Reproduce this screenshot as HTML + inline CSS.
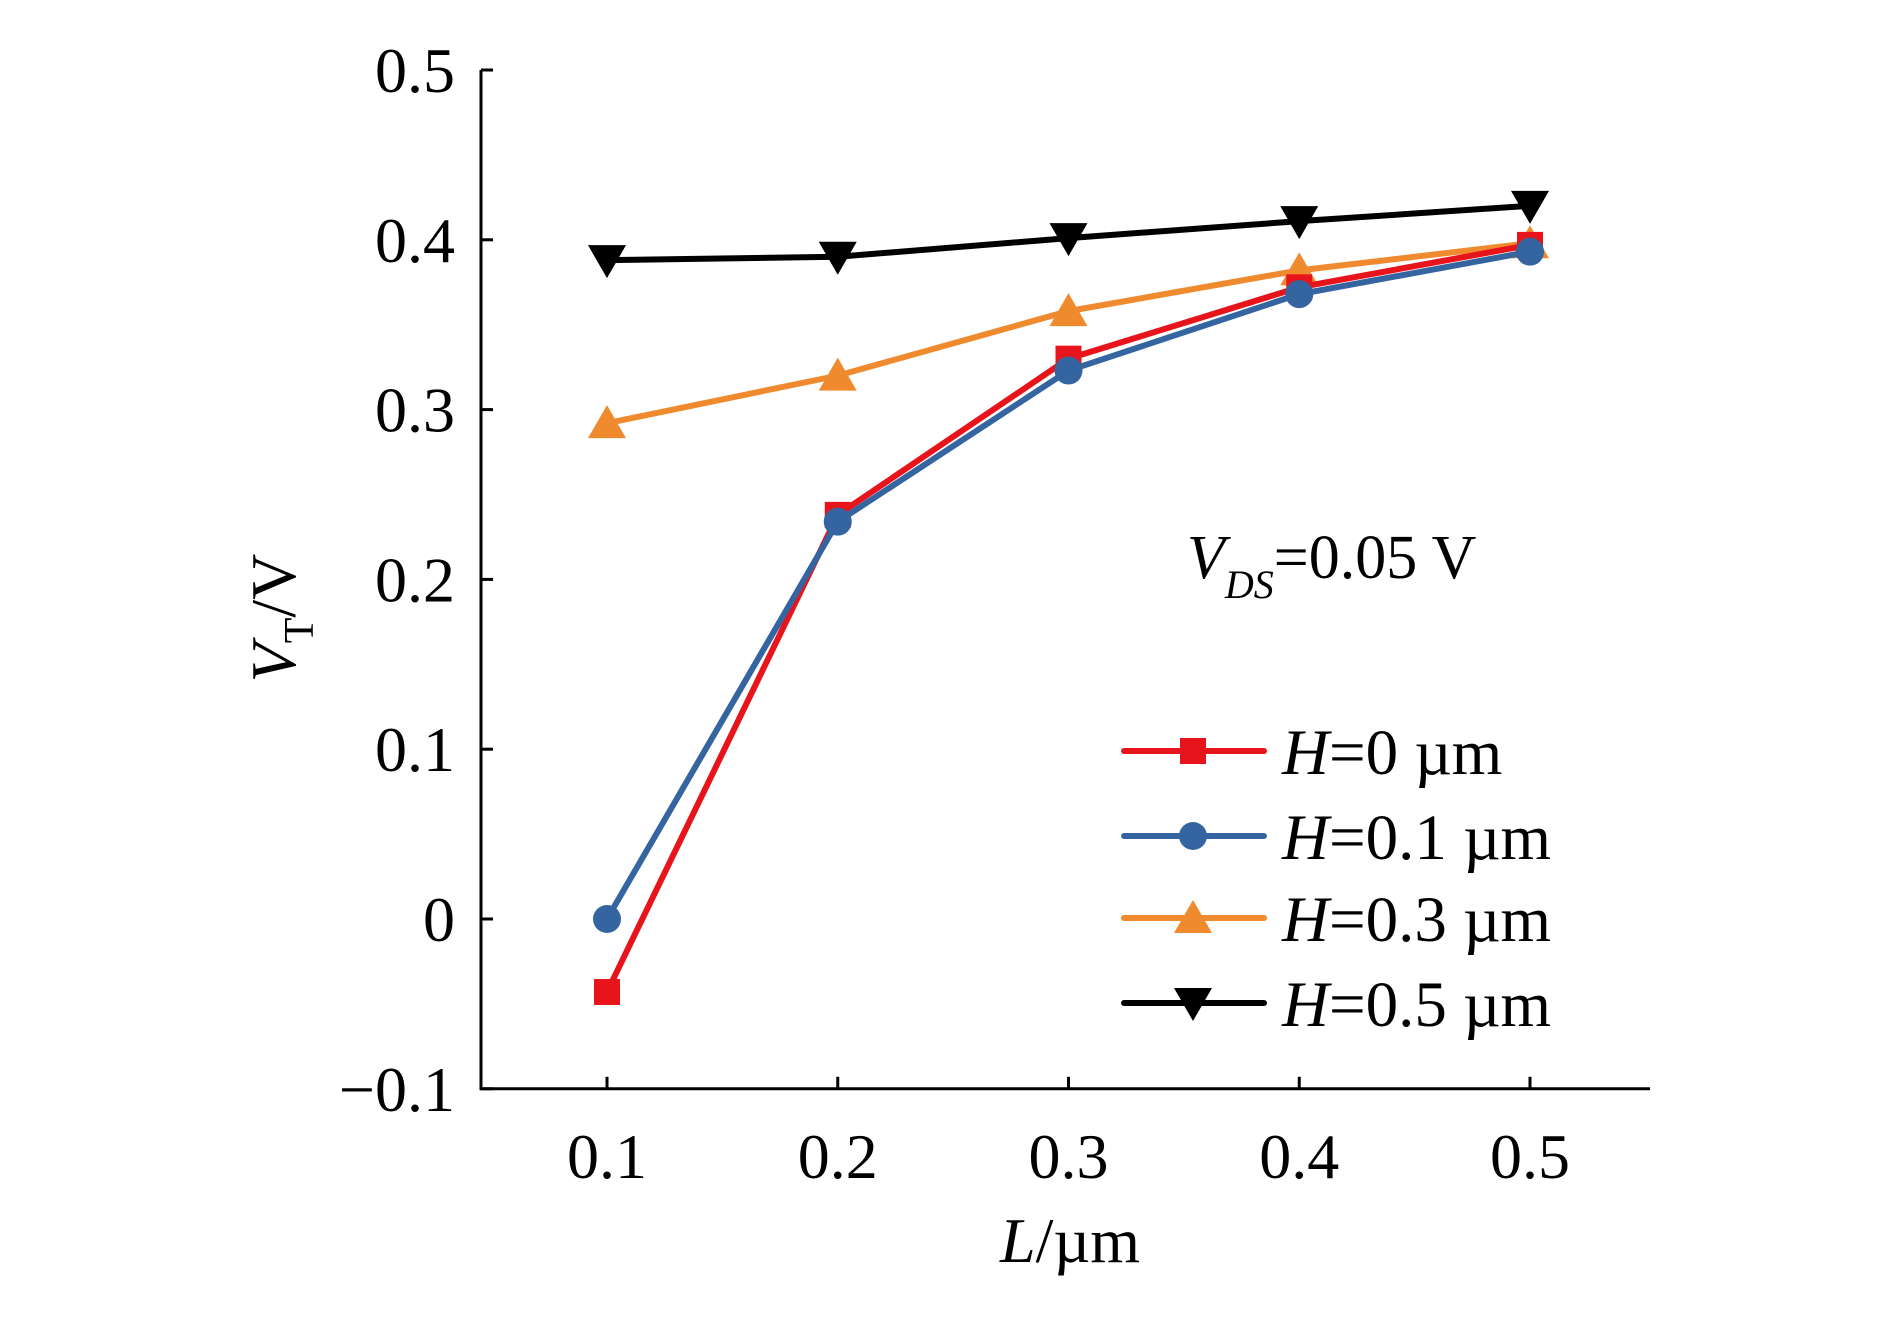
<!DOCTYPE html>
<html><head><meta charset="utf-8"><style>
html,body{margin:0;padding:0;background:#fff;}
svg{display:block;font-family:"Liberation Serif",serif;}
</style></head><body>
<svg id="chart" width="1890" height="1323" viewBox="0 0 1890 1323">
<g id="axes"></g><g id="series"></g><g id="legend"></g>
<text x="1187" y="578" font-size="62"><tspan font-style="italic">V</tspan><tspan font-style="italic" font-size="40" dy="20">DS</tspan><tspan dy="-20">=0.05 V</tspan></text>
<text transform="translate(295,618) rotate(-90)" text-anchor="middle" font-size="64"><tspan font-style="italic">V</tspan><tspan font-size="42" dy="18">T</tspan><tspan dy="-18">/V</tspan></text>
<text x="1070" y="1262" text-anchor="middle" font-size="64"><tspan font-style="italic">L</tspan>/µm</text>
</svg>
<script>
const categories=[0.1,0.2,0.3,0.4,0.5];
const xTickLabels=["0.1","0.2","0.3","0.4","0.5"];
const yTicks=[-0.1,0,0.1,0.2,0.3,0.4,0.5];
const yTickLabels=["\u22120.1","0","0.1","0.2","0.3","0.4","0.5"];
const seriesNames=["H=0 µm","H=0.1 µm","H=0.3 µm","H=0.5 µm"];
const h0=[-0.043,0.238,0.330,0.372,0.397];
const h01=[0.0,0.234,0.323,0.368,0.393];
const h03=[0.292,0.320,0.358,0.382,0.398];
const h05=[0.388,0.390,0.401,0.411,0.420];
const NS="http://www.w3.org/2000/svg";
const X0=607,XS=230.75,Y0=919,YS=1698;
const xs=v=>X0+(v-0.1)/0.1*XS;
const ys=v=>Y0-v*YS;
function mk(tag,attrs,parent){const e=document.createElementNS(NS,tag);for(const k in attrs)e.setAttribute(k,attrs[k]);parent.appendChild(e);return e;}
const axes=document.getElementById('axes');
let a=mk('path',{d:`M481,${ys(0.5)} L481,${ys(-0.1)} L1650,${ys(-0.1)}`,fill:'none',stroke:'#000','stroke-width':3},axes);


yTicks.forEach((v,i)=>{
 const t=mk('line',{x1:481,x2:493,y1:ys(v),y2:ys(v),stroke:'#000','stroke-width':3},axes);
 
 
 const l=mk('text',{x:455,y:ys(v)+22,'text-anchor':'end','font-size':64},axes);
 l.textContent=yTickLabels[i];
 
 
});
categories.forEach((v,i)=>{
 const t=mk('line',{x1:xs(v),x2:xs(v),y1:ys(-0.1),y2:ys(-0.1)-12,stroke:'#000','stroke-width':3},axes);
 
 
 const l=mk('text',{x:xs(v),y:1178,'text-anchor':'middle','font-size':64},axes);
 l.textContent=xTickLabels[i];
 
 
});
function marker(type,x,y,color,parent){
 let e;
 if(type==='sq')e=mk('rect',{x:x-13,y:y-13,width:26,height:26,fill:color},parent);
 else if(type==='ci')e=mk('circle',{cx:x,cy:y,r:14,fill:color},parent);
 else if(type==='up')e=mk('path',{d:`M${x},${y-18} L${x+19},${y+15} L${x-19},${y+15} Z`,fill:color},parent);
 else e=mk('path',{d:`M${x-19},${y-15} L${x+19},${y-15} L${x},${y+18} Z`,fill:color},parent);
 return e;
}
const sdefs=[[h05,'#000','dn','series-h05'],[h03,'#f08a2e','up','series-h03'],[h0,'#e8141c','sq','series-h0'],[h01,'#3465a0','ci','series-h01']];
const sg=document.getElementById('series');
sdefs.forEach(([d,c,m,n])=>{
 const g=mk('g',{},sg);
 
 
 const p=mk('polyline',{points:d.map((v,i)=>xs(categories[i])+','+ys(v)).join(' '),fill:'none',stroke:c,'stroke-width':6,'stroke-linecap':'round'},g);
 
 
 d.forEach((v,i)=>{const e=marker(m,xs(categories[i]),ys(v),c,g);
  
  });
});
const lg=document.getElementById('legend');
const ldefs=[['#e8141c','sq'],['#3465a0','ci'],['#f08a2e','up'],['#000','dn']];
const ly=[751,836,918,1003];
ldefs.forEach(([c,m],i)=>{
 const g=mk('g',{},lg);
 
 
 mk('line',{x1:1124,x2:1264,y1:ly[i],y2:ly[i],stroke:c,'stroke-width':6,'stroke-linecap':'round'},g);
 marker(m,1193,ly[i],c,g);
 const t=mk('text',{x:1282,y:ly[i]+23,'font-size':65},g);
 const nm=seriesNames[i];
 const s1=mk('tspan',{'font-style':'italic'},t);s1.textContent=nm[0];
 const s2=mk('tspan',{},t);s2.textContent=nm.slice(1);
});
</script>
</body></html>
